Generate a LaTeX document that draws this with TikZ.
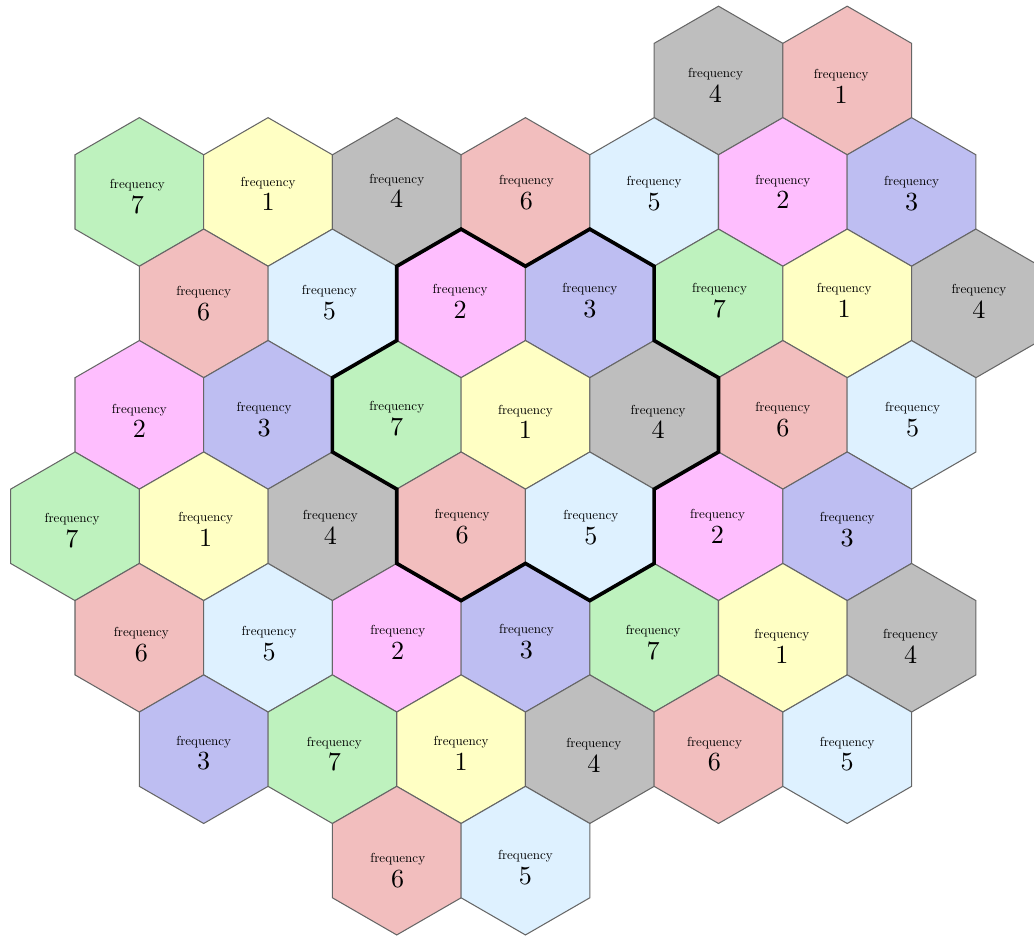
\documentclass[tikz,border=0pt]{standalone}
\definecolor{cGreen}{RGB}{190,242,190}
\definecolor{cRed}{RGB}{242,190,190}
\definecolor{cYellow}{RGB}{255,255,196}
\definecolor{cGray}{RGB}{190,190,190}
\definecolor{cLblue}{RGB}{222,241,255}
\definecolor{cMag}{RGB}{254,190,254}
\definecolor{cBlue}{RGB}{190,190,242}
\begin{document}
\begin{tikzpicture}[x=0.013459cm,y=-0.013459cm,
  hexcell/.style={draw=black!60, line width=0.4pt},
  lbl/.style={align=center, inner sep=0pt, font=\normalsize},
  outline/.style={draw=black, line width=1.4pt, line join=miter}]
\useasboundingbox (0,0) rectangle (1034,936);
\foreach \k/\r/\col/\nm/\dx/\dy in {
  10/0/cGray/4/-3/5, 12/0/cRed/1/-6/6,
  1/1/cGreen/7/-2/5, 3/1/cYellow/1/0/2, 5/1/cGray/4/0/-1, 7/1/cRed/6/1/1, 9/1/cLblue/5/0/2, 11/1/cMag/2/0/0, 13/1/cBlue/3/0/2,
  2/2/cRed/6/0/0, 4/2/cLblue/5/-3/-1, 6/2/cMag/2/-1/-2, 8/2/cBlue/3/0/-3, 10/2/cGreen/7/1/-3, 12/2/cYellow/1/-3/-3, 14/2/cGray/4/3/-2,
  1/3/cMag/2/0/6, 3/3/cBlue/3/-4/5, 5/3/cGreen/7/0/4, 7/3/cYellow/1/0/7, 9/3/cGray/4/4/7, 11/3/cRed/6/0/5, 13/3/cLblue/5/1/5,
  0/4/cGreen/7/-3/4, 2/4/cYellow/1/2/3, 4/4/cGray/4/-2/1, 6/4/cRed/6/1/0, 8/4/cLblue/5/1/1, 10/4/cMag/2/-1/0, 12/4/cBlue/3/0/3,
  1/5/cRed/6/2/7, 3/5/cLblue/5/1/6, 5/5/cMag/2/1/5, 7/5/cBlue/3/1/4, 9/5/cGreen/7/-1/5, 11/5/cYellow/1/-1/9, 13/5/cGray/4/-1/9,
  2/6/cBlue/3/0/4, 4/6/cGreen/7/2/5, 6/6/cYellow/1/0/4, 8/6/cGray/4/4/6, 10/6/cRed/6/-4/5, 12/6/cLblue/5/0/5,
  5/7/cRed/6/1/10, 7/7/cLblue/5/0/7}{
  \pgfmathsetmacro\cx{75+\k*64.35}
  \pgfmathsetmacro\cy{80.5+\r*111.45}
  \path (\cx,\cy) coordinate (c\k-\r)
    +(0,-74.3) coordinate (c\k-\r-T)
    +(64.35,-37.15) coordinate (c\k-\r-UR)
    +(64.35,37.15) coordinate (c\k-\r-LR)
    +(0,74.3) coordinate (c\k-\r-B)
    +(-64.35,37.15) coordinate (c\k-\r-LL)
    +(-64.35,-37.15) coordinate (c\k-\r-UL);
  \draw[hexcell, fill=\col] (c\k-\r-T) -- (c\k-\r-UR) -- (c\k-\r-LR) -- (c\k-\r-B) -- (c\k-\r-LL) -- (c\k-\r-UL) -- cycle;
  \node[lbl] (t\k-\r) at ({\cx+\dx},{\cy+\dy}) {\scalebox{0.5}{frequency}\\[-2.5pt]\nm};
}
\draw[outline] (c6-2-T) -- (c6-2-UR) -- (c8-2-T) -- (c8-2-UR) -- (c8-2-LR) -- (c9-3-UR) -- (c9-3-LR) -- (c9-3-B) -- (c8-4-LR) -- (c8-4-B) -- (c8-4-LL) -- (c6-4-B) -- (c6-4-LL) -- (c6-4-UL) -- (c5-3-LL) -- (c5-3-UL) -- (c5-3-T) -- (c6-2-UL) -- cycle;
\end{tikzpicture}
\end{document}
